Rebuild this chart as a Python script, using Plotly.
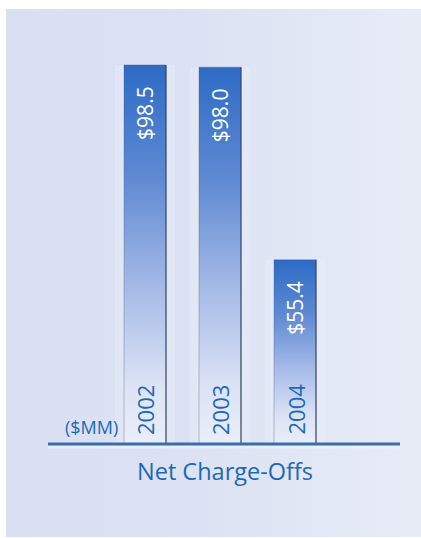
import plotly.graph_objects as go

# ---- data ----
years = ["2002", "2003", "2004"]
values = [98.5, 98.0, 55.4]
value_labels = ["$98.5", "$98.0", "$55.4"]
unit_label = "($MM)"
chart_title = "Net Charge-Offs"

# ---- layout / scale parameters (pixels) ----
W, H = 421, 538
X0_PX, X_STEP_PX = 145, 75       # centre of first bar, spacing between bars
BASE_PX = 444                    # pixel row of the baseline
PX_PER_UNIT = 4.524              # vertical scale
BASE_VAL = 14.7                  # value sitting on the baseline
BAR_HALF_PX = 21
FONT = "Open Sans"
BLUE_TXT = "#1b69b8"


def xpx(p):
    return (p - X0_PX) / X_STEP_PX


def ypx(p):
    return BASE_VAL + (BASE_PX - p) / PX_PER_UNIT


fig = go.Figure()

# panel background (gradient)
bx0, bx1, by0, by1 = xpx(6), xpx(421), ypx(537), ypx(9)
fig.add_trace(go.Scatter(
    x=[bx0, bx1, bx1, bx0, bx0], y=[by0, by0, by1, by1, by0],
    mode="lines", line=dict(width=0), fill="toself",
    fillgradient=dict(type="horizontal",
                      colorscale=[[0, "#d9e0f2"], [0.45, "#dce2f3"], [1, "#e8ecf7"]]),
    hoverinfo="skip", showlegend=False))

half = BAR_HALF_PX / X_STEP_PX
glow = (BAR_HALF_PX + 9) / X_STEP_PX

for i, v in enumerate(values):
    # soft light halo behind each bar
    fig.add_trace(go.Scatter(
        x=[i - glow, i + glow, i + glow, i - glow, i - glow],
        y=[BASE_VAL, BASE_VAL, v, v, BASE_VAL],
        mode="lines", line=dict(width=0), fill="toself",
        fillcolor="rgba(238,242,250,0.35)", hoverinfo="skip", showlegend=False))
    # gradient bar
    fig.add_trace(go.Scatter(
        x=[i - half, i + half, i + half, i - half, i - half],
        y=[BASE_VAL, BASE_VAL, v, v, BASE_VAL],
        mode="lines", line=dict(width=1, color="rgba(70,90,130,0.35)"), fill="toself",
        fillgradient=dict(type="vertical",
                          colorscale=[[0, "#eaeef9"], [0.15, "#dce3f5"],
                                      [0.4, "#a8bce8"], [0.7, "#5f8ad3"],
                                      [1, "#2d6bc5"]]),
        hoverinfo="skip", showlegend=False))
    # darker right edge
    fig.add_trace(go.Scatter(
        x=[i + half, i + half], y=[BASE_VAL, v],
        mode="lines", line=dict(width=2, color="rgba(55,70,100,0.55)"),
        hoverinfo="skip", showlegend=False))

annotations = []
for i, (v, lab, yr) in enumerate(zip(values, value_labels, years)):
    annotations.append(dict(
        x=i, y=v, xref="x", yref="y", text=lab, showarrow=False, textangle=-90,
        xanchor="center", yanchor="top", yshift=-19,
        font=dict(family=FONT, size=21, color="white")))
    annotations.append(dict(
        x=i, y=BASE_VAL, xref="x", yref="y", text=yr, showarrow=False, textangle=-90,
        xanchor="center", yanchor="bottom", yshift=7,
        font=dict(family=FONT, size=22, color=BLUE_TXT)))

annotations.append(dict(
    x=-half, y=BASE_VAL, xref="x", yref="y", text=unit_label, showarrow=False,
    xanchor="right", yanchor="bottom", xshift=-4, yshift=3,
    font=dict(family=FONT, size=18, color=BLUE_TXT)))

annotations.append(dict(
    x=225 / W, y=(H - 471) / H, xref="paper", yref="paper", text=chart_title,
    showarrow=False, xanchor="center", yanchor="middle",
    font=dict(family=FONT, size=23.5, color=BLUE_TXT)))

shapes = [
    dict(type="line", xref="x", yref="y", x0=xpx(48), x1=xpx(400),
         y0=BASE_VAL - 3 / PX_PER_UNIT, y1=BASE_VAL - 3 / PX_PER_UNIT,
         line=dict(color="rgba(235,242,252,0.8)", width=3)),
    dict(type="line", xref="x", yref="y", x0=xpx(48), x1=xpx(400),
         y0=BASE_VAL, y1=BASE_VAL, line=dict(color="#3a6cb0", width=3)),
]

fig.update_layout(
    width=W, height=H,
    margin=dict(l=0, r=0, t=0, b=0),
    paper_bgcolor="white", plot_bgcolor="white",
    xaxis=dict(range=[xpx(0), xpx(W)], visible=False, fixedrange=True),
    yaxis=dict(range=[ypx(H), ypx(0)], visible=False, fixedrange=True),
    annotations=annotations, shapes=shapes,
    showlegend=False,
)

fig.write_html(
    "out.html",
    config={"displayModeBar": False},
    post_script="document.body.style.margin='0px';document.body.style.overflow='hidden';",
)
